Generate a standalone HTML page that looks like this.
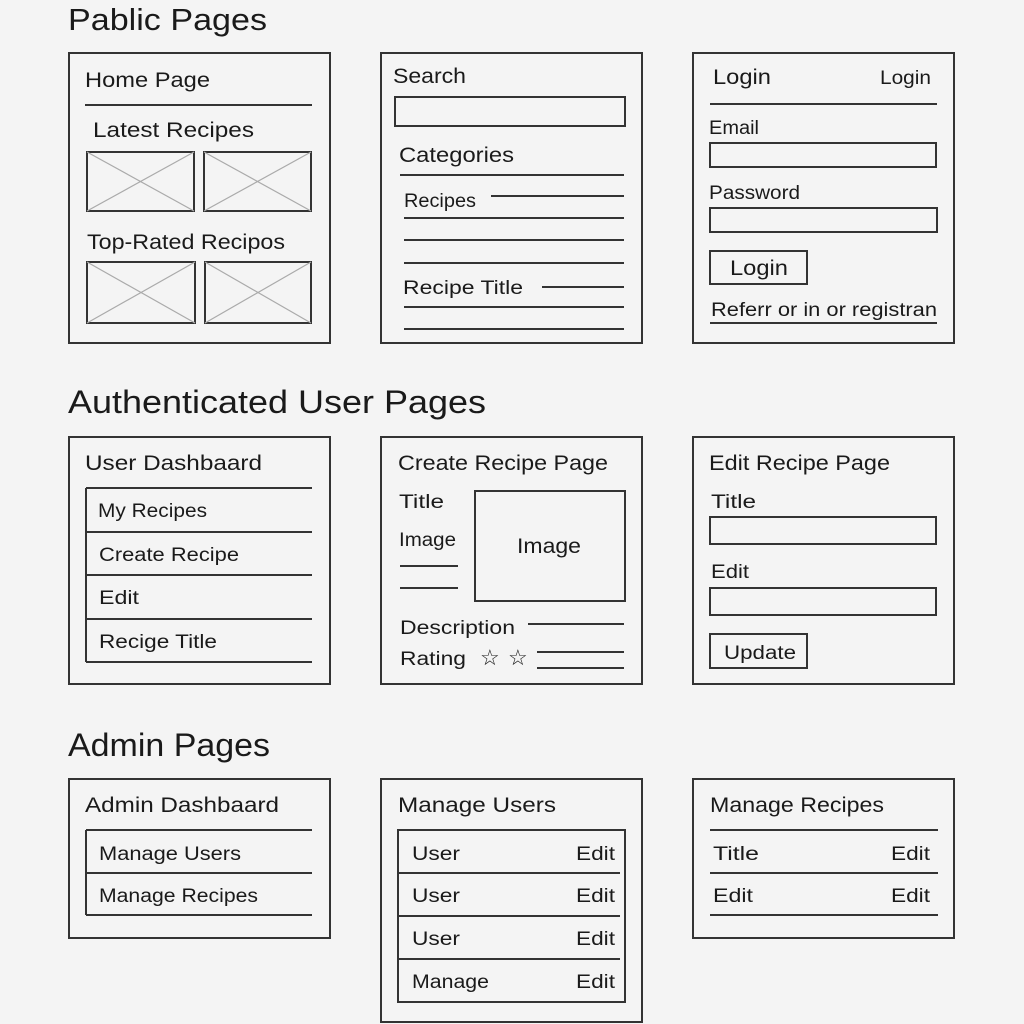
<!DOCTYPE html>
<html><head><meta charset="utf-8"><style>
html,body{margin:0;padding:0;background:#f4f4f4;}
svg{display:block;}
text{font-family:"Liberation Sans",sans-serif;fill:#1a1a1a;}
</style></head><body>
<svg width="1024" height="1024" viewBox="0 0 1024 1024" xmlns="http://www.w3.org/2000/svg">
<rect width="1024" height="1024" fill="#f4f4f4"/>
<g fill="none" stroke="#333" stroke-width="2">
<!-- panels -->
<rect x="69" y="53" width="261" height="290"/>
<rect x="381" y="53" width="261" height="290"/>
<rect x="693" y="53" width="261" height="290"/>
<rect x="69" y="437" width="261" height="247"/>
<rect x="381" y="437" width="261" height="247"/>
<rect x="693" y="437" width="261" height="247"/>
<rect x="69" y="779" width="261" height="159"/>
<rect x="381" y="779" width="261" height="243"/>
<rect x="693" y="779" width="261" height="159"/>
<!-- home -->
<line x1="85" y1="105" x2="312" y2="105"/>
<rect x="87" y="152" width="107" height="59"/>
<rect x="204" y="152" width="107" height="59"/>
<rect x="87" y="262" width="108" height="61"/>
<rect x="205" y="262" width="106" height="61"/>
</g>
<g stroke="#aaa" stroke-width="1.2">
<line x1="87" y1="152" x2="194" y2="211"/><line x1="194" y1="152" x2="87" y2="211"/>
<line x1="204" y1="152" x2="311" y2="211"/><line x1="311" y1="152" x2="204" y2="211"/>
<line x1="87" y1="262" x2="195" y2="323"/><line x1="195" y1="262" x2="87" y2="323"/>
<line x1="205" y1="262" x2="311" y2="323"/><line x1="311" y1="262" x2="205" y2="323"/>
</g>
<g fill="none" stroke="#333" stroke-width="2">
<!-- search -->
<rect x="395" y="97" width="230" height="29"/>
<line x1="400" y1="175" x2="624" y2="175"/>
<line x1="491" y1="196" x2="624" y2="196"/>
<line x1="404" y1="218" x2="624" y2="218"/>
<line x1="404" y1="240" x2="624" y2="240"/>
<line x1="404" y1="263" x2="624" y2="263"/>
<line x1="542" y1="287" x2="624" y2="287"/>
<line x1="404" y1="307" x2="624" y2="307"/>
<line x1="404" y1="329" x2="624" y2="329"/>
<!-- login -->
<line x1="710" y1="104" x2="937" y2="104"/>
<rect x="710" y="143" width="226" height="24"/>
<rect x="710" y="208" width="227" height="24"/>
<rect x="710" y="251" width="97" height="33"/>
<line x1="710" y1="323" x2="937" y2="323"/>
<!-- dashboard -->
<line x1="86" y1="488" x2="86" y2="662"/>
<line x1="86" y1="488" x2="312" y2="488"/>
<line x1="86" y1="532" x2="312" y2="532"/>
<line x1="86" y1="575" x2="312" y2="575"/>
<line x1="86" y1="619" x2="312" y2="619"/>
<line x1="86" y1="662" x2="312" y2="662"/>
<!-- create -->
<rect x="475" y="491" width="150" height="110"/>
<line x1="400" y1="566" x2="458" y2="566"/>
<line x1="400" y1="588" x2="458" y2="588"/>
<line x1="528" y1="624" x2="624" y2="624"/>
<line x1="537" y1="652" x2="624" y2="652"/>
<line x1="537" y1="668" x2="624" y2="668"/>
<!-- edit -->
<rect x="710" y="517" width="226" height="27"/>
<rect x="710" y="588" width="226" height="27"/>
<rect x="710" y="634" width="97" height="34"/>
<!-- admin dash -->
<line x1="86" y1="830" x2="86" y2="915"/>
<line x1="86" y1="830" x2="312" y2="830"/>
<line x1="86" y1="873" x2="312" y2="873"/>
<line x1="86" y1="915" x2="312" y2="915"/>
<!-- manage users -->
<rect x="398" y="830" width="227" height="172"/>
<line x1="398" y1="873" x2="620" y2="873"/>
<line x1="398" y1="916" x2="620" y2="916"/>
<line x1="398" y1="959" x2="620" y2="959"/>
<!-- manage recipes -->
<line x1="710" y1="830" x2="938" y2="830"/>
<line x1="710" y1="873" x2="938" y2="873"/>
<line x1="710" y1="915" x2="938" y2="915"/>
</g>
<!-- headings -->
<text x="68" y="30" font-size="31" textLength="199" lengthAdjust="spacingAndGlyphs">Pablic Pages</text>
<text x="68" y="413" font-size="32" textLength="418" lengthAdjust="spacingAndGlyphs">Authenticated User Pages</text>
<text x="68" y="756" font-size="32" textLength="202" lengthAdjust="spacingAndGlyphs">Admin Pages</text>
<!-- home -->
<g font-size="21">
<text x="85" y="87" textLength="125" lengthAdjust="spacingAndGlyphs">Home Page</text>
<text x="93" y="137" textLength="161" lengthAdjust="spacingAndGlyphs">Latest Recipes</text>
<text x="87" y="249" textLength="198" lengthAdjust="spacingAndGlyphs">Top-Rated Recipos</text>
<text x="393" y="83" textLength="73" lengthAdjust="spacingAndGlyphs">Search</text>
<text x="399" y="162" textLength="115" lengthAdjust="spacingAndGlyphs">Categories</text>
<text x="713" y="84" textLength="58" lengthAdjust="spacingAndGlyphs">Login</text>
<text x="85" y="470" textLength="177" lengthAdjust="spacingAndGlyphs">User Dashbaard</text>
<text x="398" y="470" textLength="210" lengthAdjust="spacingAndGlyphs">Create Recipe Page</text>
<text x="709" y="470" textLength="181" lengthAdjust="spacingAndGlyphs">Edit Recipe Page</text>
<text x="517" y="553" textLength="64" lengthAdjust="spacingAndGlyphs">Image</text>
<text x="85" y="812" textLength="194" lengthAdjust="spacingAndGlyphs">Admin Dashbaard</text>
<text x="398" y="812" textLength="158" lengthAdjust="spacingAndGlyphs">Manage Users</text>
<text x="710" y="812" textLength="174" lengthAdjust="spacingAndGlyphs">Manage Recipes</text>
</g>
<g font-size="19">
<text x="404" y="207" textLength="72" lengthAdjust="spacingAndGlyphs">Recipes</text>
<text x="403" y="294" textLength="120" lengthAdjust="spacingAndGlyphs">Recipe Title</text>
<text x="880" y="84" textLength="51" lengthAdjust="spacingAndGlyphs">Login</text>
<text x="709" y="134" textLength="50" lengthAdjust="spacingAndGlyphs">Email</text>
<text x="709" y="199" textLength="91" lengthAdjust="spacingAndGlyphs">Password</text>
<text x="730" y="275" font-size="21" textLength="58" lengthAdjust="spacingAndGlyphs">Login</text>
<text x="711" y="316" textLength="226" lengthAdjust="spacingAndGlyphs">Referr or in or registran</text>
<text x="98" y="517" textLength="109" lengthAdjust="spacingAndGlyphs">My Recipes</text>
<text x="99" y="561" textLength="140" lengthAdjust="spacingAndGlyphs">Create Recipe</text>
<text x="99" y="604" textLength="40" lengthAdjust="spacingAndGlyphs">Edit</text>
<text x="99" y="648" textLength="118" lengthAdjust="spacingAndGlyphs">Recige Title</text>
<text x="399" y="508" textLength="45" lengthAdjust="spacingAndGlyphs">Title</text>
<text x="399" y="546" textLength="57" lengthAdjust="spacingAndGlyphs">Image</text>
<text x="400" y="634" textLength="115" lengthAdjust="spacingAndGlyphs">Description</text>
<text x="400" y="665" textLength="66" lengthAdjust="spacingAndGlyphs">Rating</text>
<text x="711" y="508" textLength="45" lengthAdjust="spacingAndGlyphs">Title</text>
<text x="711" y="578" textLength="38" lengthAdjust="spacingAndGlyphs">Edit</text>
<text x="724" y="659" textLength="72" lengthAdjust="spacingAndGlyphs">Update</text>
<text x="99" y="860" textLength="142" lengthAdjust="spacingAndGlyphs">Manage Users</text>
<text x="99" y="902" textLength="159" lengthAdjust="spacingAndGlyphs">Manage Recipes</text>
<text x="412" y="860" textLength="48" lengthAdjust="spacingAndGlyphs">User</text>
<text x="412" y="902" textLength="48" lengthAdjust="spacingAndGlyphs">User</text>
<text x="412" y="945" textLength="48" lengthAdjust="spacingAndGlyphs">User</text>
<text x="412" y="988" textLength="77" lengthAdjust="spacingAndGlyphs">Manage</text>
<text x="576" y="860" textLength="39" lengthAdjust="spacingAndGlyphs">Edit</text>
<text x="576" y="902" textLength="39" lengthAdjust="spacingAndGlyphs">Edit</text>
<text x="576" y="945" textLength="39" lengthAdjust="spacingAndGlyphs">Edit</text>
<text x="576" y="988" textLength="39" lengthAdjust="spacingAndGlyphs">Edit</text>
<text x="713" y="860" textLength="46" lengthAdjust="spacingAndGlyphs">Title</text>
<text x="713" y="902" textLength="40" lengthAdjust="spacingAndGlyphs">Edit</text>
<text x="891" y="860" textLength="39" lengthAdjust="spacingAndGlyphs">Edit</text>
<text x="891" y="902" textLength="39" lengthAdjust="spacingAndGlyphs">Edit</text>
</g>
<text x="480" y="665" font-size="22" fill="#333">☆</text>
<text x="508" y="665" font-size="22" fill="#333">☆</text>
</svg>
</body></html>
